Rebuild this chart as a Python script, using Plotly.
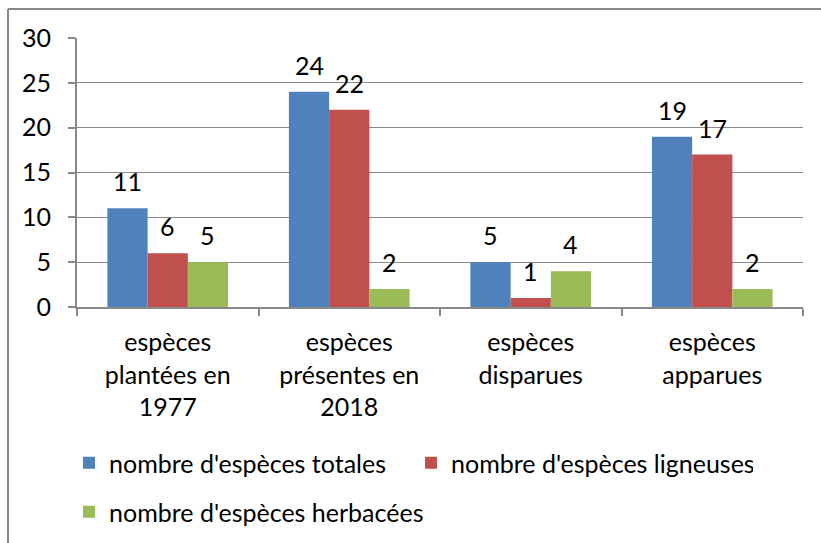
import plotly.graph_objects as go

# Categories and counts per species type
categories = [
    "espèces<br>plantées en<br>1977",
    "espèces<br>présentes en<br>2018",
    "espèces<br>disparues",
    "espèces<br>apparues",
]
totales = [11, 24, 5, 19]
ligneuses = [6, 22, 1, 17]
herbacees = [5, 2, 4, 2]

series_names = [
    "nombre d'espèces totales",
    "nombre d'espèces ligneuses",
    "nombre d'espèces herbacées",
]
series_values = [totales, ligneuses, herbacees]
series_colors = ["#4F81BD", "#C0504D", "#9BBB59"]
series_legends = ["legend", "legend", "legend2"]

y_ticks = [0, 5, 10, 15, 20, 25, 30]

FONT = "Lato"
FS = 25
GREY = "#898989"
BARGAP = 0.335

W, H = 821, 543
ML, MR, MT, MB = 77, 18, 38, 236
PW, PH = W - ML - MR, H - MT - MB

fig = go.Figure()
for name, vals, col, lg in zip(series_names, series_values, series_colors, series_legends):
    fig.add_trace(go.Bar(
        x=categories, y=vals, name=name, marker=dict(color=col, line=dict(width=0)),
        legend=lg,
    ))

# value labels above each bar, positioned via category index + group offset
n = len(series_values)
bw = (1 - BARGAP) / n
for i, vals in enumerate(series_values):
    off = (i - (n - 1) / 2) * bw
    for j, v in enumerate(vals):
        fig.add_annotation(
            x=j + off, y=v, text=str(v), showarrow=False,
            xref="x", yref="y", yanchor="middle", yshift=27,
            font=dict(family=FONT, size=FS, color="black"),
        )

# chart frame (left and top edges)
def px_x(px):
    return (px - ML) / PW

def px_y(py):
    return (H - MB - py) / PH

fig.add_shape(type="line", xref="paper", yref="paper",
              x0=px_x(8), x1=px_x(8), y0=px_y(9), y1=px_y(560),
              line=dict(color=GREY, width=2))
fig.add_shape(type="line", xref="paper", yref="paper",
              x0=px_x(8), x1=px_x(840), y0=px_y(9), y1=px_y(9),
              line=dict(color=GREY, width=2))

fig.update_layout(
    width=W, height=H,
    margin=dict(l=ML, r=MR, t=MT, b=MB, autoexpand=False),
    paper_bgcolor="white", plot_bgcolor="white",
    barmode="group", bargap=BARGAP, bargroupgap=0,
    font=dict(family=FONT, size=FS, color="black"),
    legend=dict(
        orientation="h", x=px_x(69), y=px_y(463), xanchor="left", yanchor="middle",
        entrywidth=297, entrywidthmode="pixels",
        font=dict(family=FONT, size=FS, color="black"),
        bgcolor="rgba(0,0,0,0)",
    ),
    legend2=dict(
        orientation="h", x=px_x(69), y=px_y(512), xanchor="left", yanchor="middle",
        font=dict(family=FONT, size=FS, color="black"),
        bgcolor="rgba(0,0,0,0)",
    ),
    xaxis=dict(
        showline=True, linecolor=GREY, linewidth=2,
        ticks="outside", tickson="boundaries", ticklen=7, tickcolor=GREY, tickwidth=1.5,
        showgrid=False, ticklabelstandoff=12,
        tickfont=dict(family=FONT, size=FS, color="black"),
    ),
    yaxis=dict(
        range=[0, 30], tickvals=y_ticks, showline=True, linecolor=GREY, linewidth=2,
        ticks="outside", ticklen=7, tickcolor=GREY, tickwidth=1.5,
        showgrid=True, gridcolor=GREY, gridwidth=1.3, zeroline=False,
        ticklabelstandoff=12,
        tickfont=dict(family=FONT, size=FS, color="black"),
    ),
    showlegend=True,
)

fig.write_html("out.html")
